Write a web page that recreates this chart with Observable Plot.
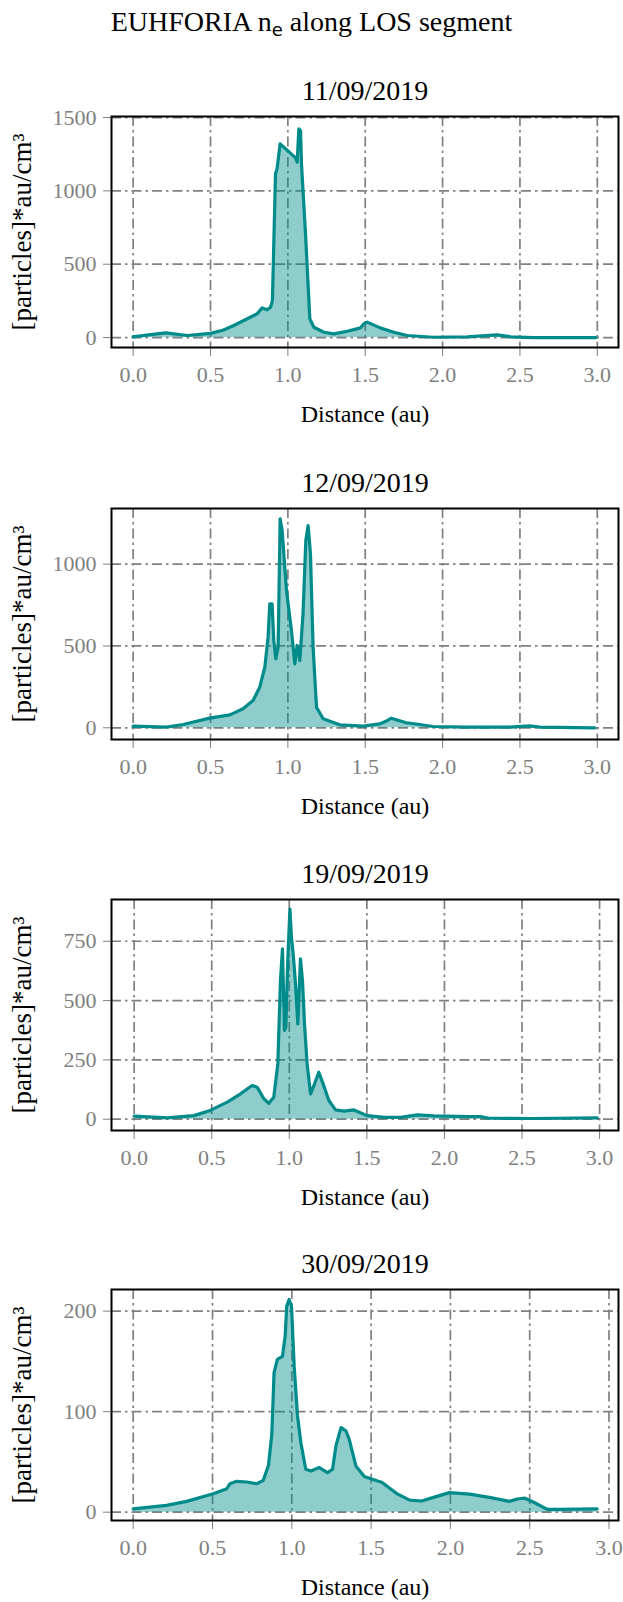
<!DOCTYPE html>
<html><head><meta charset="utf-8">
<script src="https://cdn.jsdelivr.net/npm/d3@7"></script>
<script src="https://cdn.jsdelivr.net/npm/@observablehq/plot@0.6"></script>
<style>
body{margin:0;background:#fff;}
#wrap{position:relative;width:623px;height:1602px;font-family:"Liberation Serif",serif;overflow:hidden;}
#title{position:absolute;top:8px;left:0;width:623px;text-align:center;font-size:28px;line-height:28px;color:#000;white-space:nowrap;}
#title sub{font-family:"DejaVu Sans",sans-serif;font-size:18px;vertical-align:-5px;line-height:0;}
.panel{position:absolute;left:0;}
.panel svg text{font-family:"Liberation Serif",serif;}
</style></head><body>
<div id="wrap"><div id="title">EUHFORIA n<sub>e</sub> along LOS segment</div></div>
<script>
const dates = ["11/09/2019", "12/09/2019", "19/09/2019", "30/09/2019"];
const xLabel = "Distance (au)";
const yLabel = "[particles]*au/cm³";
const xTicks = [0, 0.5, 1.0, 1.5, 2.0, 2.5, 3.0];

const dist1 = [0, 0.1, 0.21, 0.35, 0.5, 0.58, 0.65, 0.715, 0.8, 0.834, 0.866, 0.888, 0.9, 0.92, 0.93, 0.95, 1.05, 1.06, 1.071, 1.082, 1.088, 1.114, 1.142, 1.168, 1.233, 1.297, 1.384, 1.47, 1.49, 1.513, 1.6, 1.685, 1.77, 1.94, 2.16, 2.353, 2.44, 2.59, 2.99];
const ne1 = [5, 18, 32, 14, 28, 50, 82, 116, 161, 202, 189, 207, 252, 1116, 1150, 1320, 1225, 1195, 1423, 1411, 1184, 707, 127, 70, 36, 25, 43, 66, 93, 105, 64, 36, 14, 2, 5, 18, 5, 0, 0];
const yTicks1 = [0, 500, 1000, 1500];

const dist2 = [0, 0.215, 0.323, 0.495, 0.625, 0.71, 0.775, 0.818, 0.851, 0.872, 0.883, 0.898, 0.909, 0.922, 0.937, 0.95, 0.963, 0.991, 1.023, 1.045, 1.06, 1.077, 1.098, 1.116, 1.131, 1.146, 1.163, 1.185, 1.228, 1.335, 1.486, 1.594, 1.637, 1.669, 1.7, 1.766, 1.852, 1.938, 2.154, 2.434, 2.563, 2.627, 2.983];
const ne2 = [10, 4, 20, 59, 79, 116, 167, 248, 371, 554, 758, 758, 534, 422, 493, 1277, 1206, 839, 595, 391, 503, 411, 697, 1145, 1236, 1063, 493, 126, 55, 18, 10, 24, 41, 59, 49, 31, 20, 8, 4, 4, 12, 4, 0];
const yTicks2 = [0, 500, 1000];

const dist3 = [0, 0.213, 0.385, 0.49, 0.6, 0.686, 0.76, 0.793, 0.836, 0.868, 0.9, 0.926, 0.943, 0.956, 0.969, 0.978, 0.99, 1.004, 1.014, 1.025, 1.04, 1.055, 1.072, 1.085, 1.098, 1.115, 1.137, 1.163, 1.19, 1.218, 1.255, 1.298, 1.352, 1.416, 1.502, 1.61, 1.717, 1.825, 1.932, 2.147, 2.233, 2.287, 2.577, 2.985];
const ne3 = [13, 6, 15, 37, 72, 107, 142, 135, 86, 67, 93, 233, 584, 718, 374, 388, 668, 886, 767, 697, 570, 402, 676, 584, 402, 233, 107, 149, 198, 149, 79, 39, 34, 39, 15, 8, 8, 18, 14, 11, 11, 4, 3, 6];
const yTicks3 = [0, 250, 500, 750];

const dist4 = [0, 0.21, 0.337, 0.505, 0.59, 0.61, 0.653, 0.716, 0.78, 0.82, 0.853, 0.874, 0.888, 0.909, 0.941, 0.958, 0.968, 0.983, 0.998, 1.015, 1.036, 1.057, 1.088, 1.12, 1.173, 1.225, 1.257, 1.278, 1.31, 1.341, 1.362, 1.404, 1.457, 1.541, 1.567, 1.668, 1.743, 1.818, 1.894, 1.994, 2.12, 2.246, 2.372, 2.422, 2.47, 2.535, 2.611, 2.673, 2.925];
const ne4 = [3.3, 6.7, 10.7, 18.3, 23.3, 28.3, 30.7, 30, 28.3, 31.7, 46.7, 78, 138.7, 152, 155, 175, 205, 211.6, 205, 145, 95.7, 69, 42.7, 41, 44.4, 39.4, 42.7, 65.9, 84.1, 80.8, 72.5, 46, 35.4, 31, 29.8, 17.9, 11.9, 11.1, 14.7, 19.4, 17.9, 14.7, 10.7, 13.1, 13.9, 9.1, 2.8, 2.8, 3.2];
const yTicks4 = [0, 100, 200];

const panels = [
  {date: dates[0], xs: dist1, ys: ne1, yTicks: yTicks1, xDomain: [-0.14, 3.137], yDomain: [-68, 1507], top: 116},
  {date: dates[1], xs: dist2, ys: ne2, yTicks: yTicks2, xDomain: [-0.14, 3.137], yDomain: [-71.5, 1340], top: 508},
  {date: dates[2], xs: dist3, ys: ne3, yTicks: yTicks3, xDomain: [-0.146, 3.122], yDomain: [-47.6, 926], top: 899},
  {date: dates[3], xs: dist4, ys: ne4, yTicks: yTicks4, xDomain: [-0.137, 3.06], yDomain: [-8.3, 221.5], top: 1289}
];

const MT = 70, FH = 231, MB = 82;
const FONT = "'Liberation Serif', serif";
const lineColor = "#008b8b";
const gridStyle = {stroke: "#808080", strokeOpacity: 1, strokeWidth: 1.7, strokeDasharray: "10,4,2.5,4"};
const wrap = document.getElementById("wrap");

for (const p of panels) {
  const data = p.xs.map((x, j) => ({x, y: p.ys[j]}));
  const chart = Plot.plot({
    width: 623, height: MT + FH + MB,
    marginLeft: 111, marginRight: 5, marginTop: MT, marginBottom: MB,
    style: {fontFamily: FONT, fontSize: "22px", background: "transparent", overflow: "visible"},
    x: {domain: p.xDomain, axis: null},
    y: {domain: p.yDomain, axis: null},
    marks: [
      Plot.gridX(xTicks, gridStyle),
      Plot.gridY(p.yTicks, gridStyle),
      Plot.areaY(data, {x: "x", y: "y", fill: lineColor, fillOpacity: 0.44}),
      Plot.lineY(data, {x: "x", y: "y", stroke: lineColor, strokeWidth: 3.2}),
      Plot.axisX(xTicks, {tickSize: 9, tickPadding: 10, tickFormat: d3.format(".1f"), color: "#808080", label: null, fontSize: 22, fontFamily: FONT, fontVariant: "normal"}),
      Plot.axisY(p.yTicks, {tickSize: 8, tickPadding: 7, tickFormat: d => String(d), color: "#808080", label: null, fontSize: 22, fontFamily: FONT, fontVariant: "normal"}),
      Plot.frame({stroke: "black", strokeWidth: 2}),
      Plot.text([p.date], {text: d => d, frameAnchor: "top", dy: -17, lineAnchor: "bottom", fontSize: 28, fontFamily: FONT, fill: "black"}),
      Plot.text([xLabel], {text: d => d, frameAnchor: "bottom", dy: 74, lineAnchor: "bottom", fontSize: 24, fontFamily: FONT, fill: "black"}),
      Plot.text([yLabel], {text: d => d, frameAnchor: "left", dx: -89, textAnchor: "middle", rotate: -90, lineAnchor: "middle", fontSize: 27, fontFamily: FONT, fill: "black"})
    ]
  });
  const div = document.createElement("div");
  div.className = "panel";
  div.style.top = (p.top - MT) + "px";
  div.appendChild(chart);
  wrap.appendChild(div);
}
</script>
</body></html>
